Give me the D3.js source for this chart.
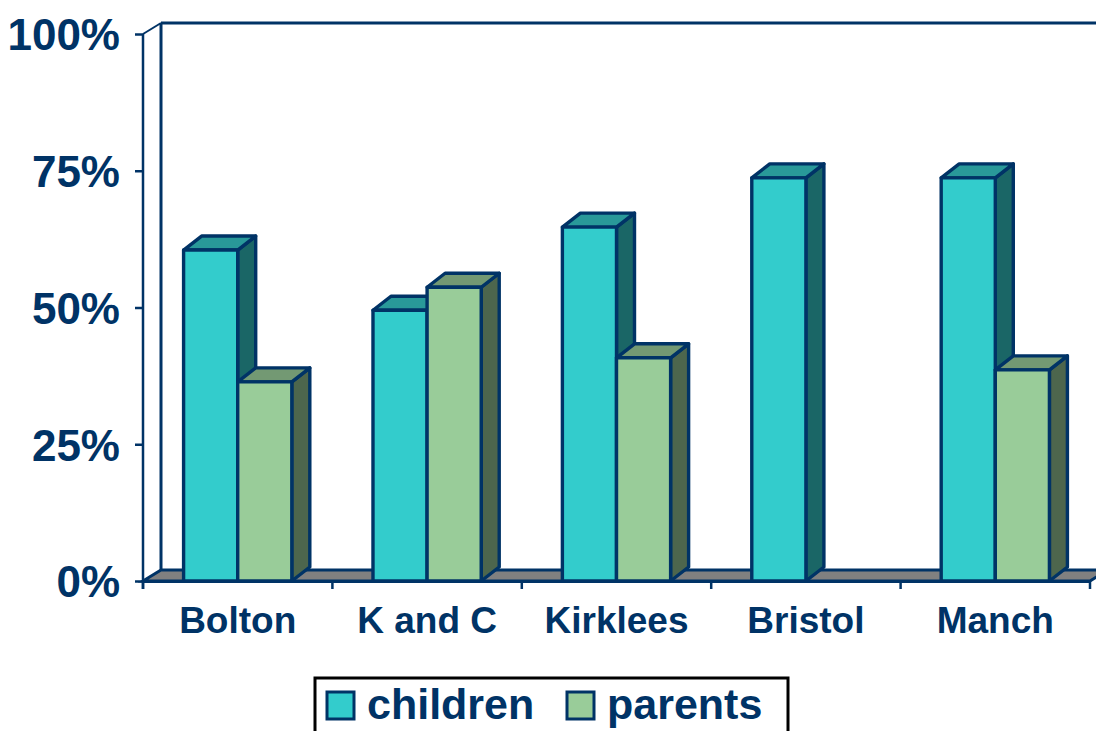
<!DOCTYPE html>
<html>
<head>
<meta charset="utf-8">
<script src="https://cdn.jsdelivr.net/npm/d3@7"></script>
<style>
  html, body { margin: 0; padding: 0; background: #ffffff; }
  svg { display: block; font-family: "Liberation Sans", Arial, sans-serif; font-weight: bold; }
</style>
</head>
<body>
<svg id="chart" width="1096" height="731"></svg>
<script>
// ---- data ----
const categories = ["Bolton", "K and C", "Kirklees", "Bristol", "Manch"];
const seriesNames = ["children", "parents"];
const children = [60.5, 49.5, 64.7, 73.7, 73.7];
const parents = [36.4, 53.7, 40.8, null, 38.6];
const yTicks = [0, 25, 50, 75, 100];
const yTickLabels = ["0%", "25%", "50%", "75%", "100%"];

// ---- styles ----
const NAVY = "#003366";
const colors = {
  children: { front: "#33CCCC", top: "#299999", side: "#1A6666" },
  parents:  { front: "#99CC99", top: "#739973", side: "#4D664D" }
};

const svg = d3.select("#chart");

// scales
const x = d3.scaleBand().domain(categories).range([143, 1090]).paddingInner(0).paddingOuter(0);
const xs = d3.scaleBand().domain(seriesNames).range([0, x.bandwidth()]).paddingInner(0).paddingOuter(0.75);
const y = d3.scaleLinear().domain([0, 100]).range([581, 34]);

// 3D offsets
const wdx = 18, wdy = -11;   // walls / floor depth
const bdx = 18, bdy = -14;   // bar depth

const [xL, xR] = x.range();
const y0 = y(0), yTop = y(100);

// back wall + side wall outlines
svg.append("path")
  .attr("d", `M${xL + wdx},${yTop + wdy} L${1200},${yTop + wdy}`)
  .attr("stroke", NAVY).attr("stroke-width", 3).attr("fill", "none");
svg.append("path")
  .attr("d", `M${xL + wdx},${yTop + wdy} L${xL + wdx},${y0 + wdy}`)
  .attr("stroke", NAVY).attr("stroke-width", 3).attr("fill", "none");
svg.append("path")
  .attr("d", `M${xL},${yTop} L${xL + wdx},${yTop + wdy}`)
  .attr("stroke", NAVY).attr("stroke-width", 2).attr("fill", "none");

// floor
svg.append("path")
  .attr("d", `M${xL},${y0} L${xL + wdx},${y0 + wdy} L${xR + wdx},${y0 + wdy} L${xR},${y0} Z`)
  .attr("fill", "#808080").attr("stroke", NAVY).attr("stroke-width", 3).attr("stroke-linejoin", "miter");

// bars
const rows = [];
categories.forEach((c, i) => {
  rows.push({ cat: c, s: "children", v: children[i] });
  rows.push({ cat: c, s: "parents", v: parents[i] });
});

const barG = svg.append("g");
rows.filter(d => d.v != null).forEach(d => {
  const x0 = x(d.cat) + xs(d.s);
  const x1 = x0 + xs.bandwidth();
  const yt = y(d.v);
  const col = colors[d.s];
  const g = barG.append("g").attr("stroke", NAVY).attr("stroke-width", 3.4).attr("stroke-linejoin", "round");
  g.append("path")
    .attr("d", `M${x1},${yt} L${x1 + bdx},${yt + bdy} L${x1 + bdx},${y0 + bdy} L${x1},${y0} Z`)
    .attr("fill", col.side);
  g.append("path")
    .attr("d", `M${x0},${yt} L${x0 + bdx},${yt + bdy} L${x1 + bdx},${yt + bdy} L${x1},${yt} Z`)
    .attr("fill", col.top);
  g.append("rect")
    .attr("x", x0).attr("y", yt).attr("width", x1 - x0).attr("height", y0 - yt)
    .attr("fill", col.front);
});

// y axis (front)
const yAxis = d3.axisLeft(y).tickValues(yTicks).tickSize(8)
  .tickFormat((d, i) => yTickLabels[i]);
const gy = svg.append("g").attr("transform", `translate(${xL},0)`).call(yAxis);
gy.select(".domain").attr("stroke", NAVY).attr("stroke-width", 2.5).attr("d", `M0,${yTop}V${y0 + 8}`);
gy.selectAll(".tick line").attr("stroke", NAVY).attr("stroke-width", 2.5);
gy.selectAll(".tick text")
  .attr("fill", NAVY).attr("font-size", 44).attr("font-weight", "bold")
  .attr("font-family", "'Liberation Sans', Arial, sans-serif")
  .attr("x", -23).attr("dy", "0.36em");

// x axis (front edge)
const xAxis = d3.axisBottom(x).tickSize(0).tickSizeOuter(0);
const gx = svg.append("g").attr("transform", `translate(0,${y0})`).call(xAxis);
gx.select(".domain").attr("stroke", NAVY).attr("stroke-width", 3);
gx.selectAll(".tick text")
  .attr("fill", NAVY).attr("font-size", 37).attr("font-weight", "bold")
  .attr("font-family", "'Liberation Sans', Arial, sans-serif")
  .attr("y", 0).attr("dy", 52);
const boundaries = categories.map(c => x(c)).concat([xR]);
svg.append("g").selectAll("line").data(boundaries).join("line")
  .attr("x1", d => d).attr("x2", d => d)
  .attr("y1", y0).attr("y2", y0 + 8)
  .attr("stroke", NAVY).attr("stroke-width", 2.5);

// legend
const leg = svg.append("g");
leg.append("rect").attr("x", 315).attr("y", 678).attr("width", 473).attr("height", 70)
  .attr("fill", "#ffffff").attr("stroke", "#000000").attr("stroke-width", 3);
const legItems = [
  { s: "children", sx: 327, tx: 367 },
  { s: "parents", sx: 567, tx: 607 }
];
legItems.forEach(it => {
  leg.append("rect").attr("x", it.sx).attr("y", 692).attr("width", 27).attr("height", 27)
    .attr("fill", colors[it.s].front).attr("stroke", NAVY).attr("stroke-width", 3);
  leg.append("text").attr("x", it.tx).attr("y", 719)
    .attr("fill", NAVY).attr("font-size", 43).attr("font-weight", "bold")
    .text(it.s);
});
</script>
</body>
</html>
